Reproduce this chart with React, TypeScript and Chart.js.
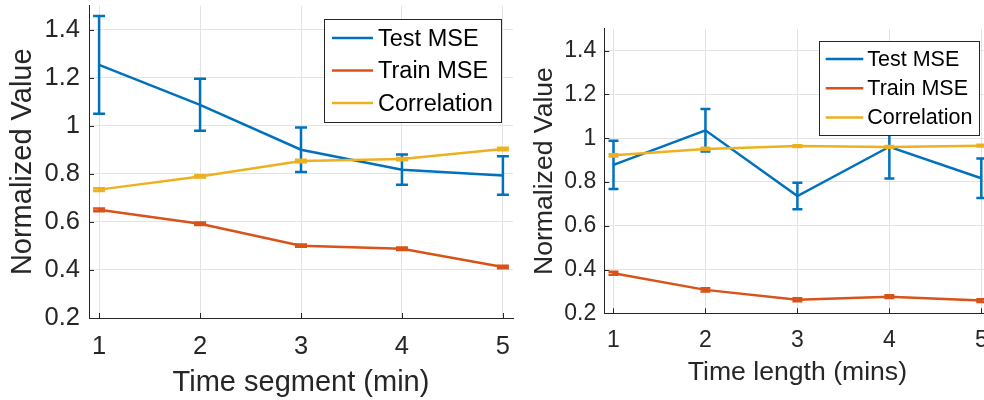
import React, { useEffect, useRef } from "react";
import { Chart, registerables } from "chart.js";

Chart.register(...registerables);

// ---------- data ----------
const xValues = [1, 2, 3, 4, 5];
const xTickValues = [1, 2, 3, 4, 5];
const xTickLabels = ["1", "2", "3", "4", "5"];
const yTickValues = [0.2, 0.4, 0.6, 0.8, 1, 1.2, 1.4];
const yTickLabels = ["0.2", "0.4", "0.6", "0.8", "1", "1.2", "1.4"];
const seriesNames = ["Test MSE", "Train MSE", "Correlation"];

// left panel: Time segment (min)
const segTestMse = [1.253, 1.087, 0.9, 0.817, 0.793];
const segTestErr = [0.203, 0.108, 0.093, 0.063, 0.08];
const segTrainMse = [0.65, 0.592, 0.501, 0.488, 0.412];
const segTrainErr = [0.006, 0.005, 0.005, 0.005, 0.005];
const segCorr = [0.734, 0.789, 0.853, 0.861, 0.903];
const segCorrErr = [0.006, 0.005, 0.005, 0.005, 0.005];

// right panel: Time length (mins)
const lenTestMse = [0.878, 1.036, 0.736, 0.961, 0.817];
const lenTestErr = [0.11, 0.097, 0.06, 0.145, 0.09];
const lenTrainMse = [0.383, 0.307, 0.262, 0.276, 0.258];
const lenTrainErr = [0.007, 0.007, 0.007, 0.006, 0.006];
const lenCorr = [0.922, 0.951, 0.964, 0.96, 0.966];
const lenCorrErr = [0.005, 0.005, 0.004, 0.004, 0.004];

// ---------- styles ----------
const FONT = '"Liberation Sans", Arial, Helvetica, sans-serif';
const AXIS = "#262626";
const GRID = "#e3e3e3";
const COLORS = ["#0072BD", "#D95319", "#EDB120"];
const LINE_W = 2.5;

Chart.defaults.font.family = FONT;

function makeErrorBars(errors: number[][], cap: number) {
  return {
    id: "errorBars",
    afterDatasetDraw(chart: any, args: any) {
      const errs = errors[args.index];
      if (!errs) return;
      const ds = chart.data.datasets[args.index];
      const xs = chart.scales.x;
      const ys = chart.scales.y;
      const ctx = chart.ctx;
      ctx.save();
      ctx.strokeStyle = ds.borderColor;
      ctx.lineWidth = LINE_W;
      ds.data.forEach((p: any, i: number) => {
        const x = xs.getPixelForValue(p.x);
        const y1 = ys.getPixelForValue(p.y - errs[i]);
        const y2 = ys.getPixelForValue(p.y + errs[i]);
        ctx.beginPath();
        ctx.moveTo(x, y1);
        ctx.lineTo(x, y2);
        ctx.moveTo(x - cap / 2, y1);
        ctx.lineTo(x + cap / 2, y1);
        ctx.moveTo(x - cap / 2, y2);
        ctx.lineTo(x + cap / 2, y2);
        ctx.stroke();
      });
      ctx.restore();
    },
  };
}

const innerTicks = {
  id: "innerTicks",
  beforeDatasetsDraw(chart: any) {
    const ctx = chart.ctx;
    const a = chart.chartArea;
    const len = 5;
    ctx.save();
    ctx.strokeStyle = AXIS;
    ctx.lineWidth = 1;
    ctx.beginPath();
    chart.scales.y.ticks.forEach((t: any) => {
      const y = Math.round(chart.scales.y.getPixelForValue(t.value)) + 0.5;
      ctx.moveTo(a.left, y);
      ctx.lineTo(a.left + len, y);
    });
    chart.scales.x.ticks.forEach((t: any) => {
      const x = Math.round(chart.scales.x.getPixelForValue(t.value)) + 0.5;
      ctx.moveTo(x, a.bottom);
      ctx.lineTo(x, a.bottom - len);
    });
    ctx.stroke();
    ctx.restore();
  },
};

function makeLegend(cfg: {
  font: number;
  rowH: number;
  lineLen: number;
  padX: number;
  padY: number;
  gap: number;
  insetX: number;
  insetY: number;
}) {
  return {
    id: "boxLegend",
    afterDraw(chart: any) {
      const ctx = chart.ctx;
      const area = chart.chartArea;
      const dss = chart.data.datasets;
      ctx.save();
      ctx.font = `${cfg.font}px ${FONT}`;
      const maxW = Math.max(...dss.map((d: any) => ctx.measureText(d.label).width));
      const w = Math.round(cfg.padX * 2 + cfg.lineLen + cfg.gap + maxW);
      const h = Math.round(cfg.padY * 2 + cfg.rowH * dss.length);
      const x0 = Math.round(area.right - cfg.insetX - w);
      const y0 = Math.round(area.top + cfg.insetY);
      ctx.fillStyle = "#ffffff";
      ctx.fillRect(x0, y0, w, h);
      ctx.strokeStyle = AXIS;
      ctx.lineWidth = 1;
      ctx.strokeRect(x0 + 0.5, y0 + 0.5, w, h);
      dss.forEach((d: any, i: number) => {
        const cy = y0 + cfg.padY + cfg.rowH * (i + 0.5);
        ctx.strokeStyle = d.borderColor;
        ctx.lineWidth = LINE_W;
        ctx.beginPath();
        ctx.moveTo(x0 + cfg.padX, cy);
        ctx.lineTo(x0 + cfg.padX + cfg.lineLen, cy);
        ctx.stroke();
        ctx.fillStyle = "#000000";
        ctx.textBaseline = "middle";
        ctx.textAlign = "left";
        ctx.fillText(d.label, x0 + cfg.padX + cfg.lineLen + cfg.gap, cy + 1);
      });
      ctx.restore();
    },
  };
}

type Panel = {
  series: number[][];
  errors: number[][];
  xTitle: string;
  tickFont: number;
  titleFont: number;
  xTickPad: number;
  yTickPad: number;
  xTitlePad: number;
  yTitlePad: number;
  yAxisWidth: number;
  xAxisHeight: number;
  padding: { left: number; top: number; right: number; bottom: number };
  legend: any;
  cap: number;
};

function buildConfig(p: Panel): any {
  return {
    type: "line",
    data: {
      datasets: p.series.map((vals, si) => ({
        label: seriesNames[si],
        data: xValues.map((x, i) => ({ x, y: vals[i] })),
        borderColor: COLORS[si],
        backgroundColor: COLORS[si],
        borderWidth: LINE_W,
        pointRadius: 0,
        tension: 0,
        fill: false,
        order: 3 - si,
      })),
    },
    options: {
      responsive: false,
      animation: false,
      devicePixelRatio: 1,
      layout: { padding: p.padding },
      plugins: {
        legend: { display: false },
        tooltip: { enabled: false },
      },
      scales: {
        x: {
          type: "linear",
          min: 0.9,
          max: 5.1,
          afterBuildTicks: (s: any) => {
            s.ticks = xTickValues.map((v) => ({ value: v }));
          },
          afterFit: (s: any) => {
            s.height = p.xAxisHeight;
            s.paddingLeft = 0;
            s.paddingRight = 0;
            s.paddingTop = 0;
            s.paddingBottom = 0;
          },
          ticks: {
            callback: (_v: any, i: number) => xTickLabels[i],
            font: { size: p.tickFont },
            color: AXIS,
            padding: p.xTickPad,
            maxRotation: 0,
            autoSkip: false,
          },
          grid: { color: GRID, drawTicks: false, lineWidth: 1 },
          border: { display: true, color: AXIS, width: 1 },
          title: {
            display: true,
            text: p.xTitle,
            font: { size: p.titleFont },
            color: AXIS,
            padding: { top: 0, bottom: p.xTitlePad },
          },
        },
        y: {
          type: "linear",
          min: 0.2,
          max: 1.5,
          afterBuildTicks: (s: any) => {
            s.ticks = yTickValues.map((v) => ({ value: v }));
          },
          afterFit: (s: any) => {
            s.width = p.yAxisWidth;
            s.paddingLeft = 0;
            s.paddingRight = 0;
            s.paddingTop = 0;
            s.paddingBottom = 0;
          },
          ticks: {
            callback: (_v: any, i: number) => yTickLabels[i],
            font: { size: p.tickFont },
            color: AXIS,
            padding: p.yTickPad,
            autoSkip: false,
          },
          grid: { color: GRID, drawTicks: false, lineWidth: 1 },
          border: { display: true, color: AXIS, width: 1 },
          title: {
            display: true,
            text: "Normalized Value",
            font: { size: p.titleFont },
            color: AXIS,
            padding: { top: p.yTitlePad, bottom: 0 },
          },
        },
      },
    },
    plugins: [innerTicks, makeErrorBars(p.errors, p.cap), makeLegend(p.legend)],
  };
}

const leftPanel: Panel = {
  series: [segTestMse, segTrainMse, segCorr],
  errors: [segTestErr, segTrainErr, segCorrErr],
  xTitle: "Time segment (min)",
  tickFont: 25.5,
  titleFont: 29,
  xTickPad: 14,
  yTickPad: 9,
  xTitlePad: 0,
  yTitlePad: 5.5,
  yAxisWidth: 89,
  xAxisHeight: 82,
  padding: { left: 0, top: 5.5, right: 7, bottom: 0 },
  legend: { font: 23.5, rowH: 32.5, lineLen: 41, padX: 8, padY: 2.8, gap: 5, insetX: 12, insetY: 13.5 },
  cap: 12,
};

const rightPanel: Panel = {
  series: [lenTestMse, lenTrainMse, lenCorr],
  errors: [lenTestErr, lenTrainErr, lenCorrErr],
  xTitle: "Time length (mins)",
  tickFont: 23,
  titleFont: 26.6,
  xTickPad: 14,
  yTickPad: 8,
  xTitlePad: 11,
  yTitlePad: 8.5,
  yAxisWidth: 84.3,
  xAxisHeight: 86.7,
  padding: { left: 0, top: 28.8, right: 9.5, bottom: 0 },
  legend: { font: 21.5, rowH: 29.2, lineLen: 37.6, padX: 6.7, padY: 3.4, gap: 4, insetX: 12, insetY: 12.2 },
  cap: 10,
};

function ChartCanvas(props: { panel: Panel; left: number; width: number; height: number }) {
  const ref = useRef<HTMLCanvasElement>(null);
  useEffect(() => {
    const chart = new Chart(ref.current as HTMLCanvasElement, buildConfig(props.panel));
    return () => chart.destroy();
  }, []);
  return (
    <canvas
      ref={ref}
      width={props.width}
      height={props.height}
      style={{ position: "absolute", left: props.left, top: 0, width: props.width, height: props.height }}
    />
  );
}

export default function App() {
  return (
    <div
      style={{
        position: "fixed",
        left: 0,
        top: 0,
        width: 984,
        height: 400,
        overflow: "hidden",
        background: "#ffffff",
      }}
    >
      <ChartCanvas panel={leftPanel} left={0} width={520} height={400} />
      <ChartCanvas panel={rightPanel} left={520} width={480} height={400} />
    </div>
  );
}
